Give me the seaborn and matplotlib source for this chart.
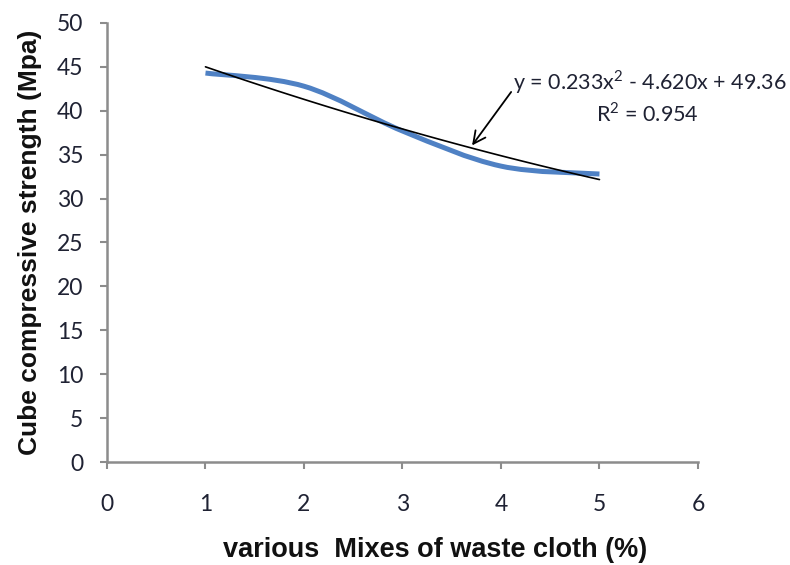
import numpy as np
import pandas as pd
import matplotlib
matplotlib.use("Agg")
import matplotlib.pyplot as plt
from matplotlib.path import Path
from matplotlib.patches import PathPatch
import seaborn as sns

# data
mix_percent = [1, 2, 3, 4, 5]
strength = [44.3, 42.8, 37.7, 33.7, 32.8]
equation_text = "y = 0.233x$^{2}$ - 4.620x + 49.36"
r2_text = "R$^{2}$ = 0.954"
x_label = "various  Mixes of waste cloth (%)"
y_label = "Cube compressive strength (Mpa)"
x_ticks = [0, 1, 2, 3, 4, 5, 6]
y_ticks = [0, 5, 10, 15, 20, 25, 30, 35, 40, 45, 50]

df = pd.DataFrame({"mix": mix_percent, "strength": strength})

sns.set_theme(style="white")
plt.rcParams["font.family"] = ["Lato", "DejaVu Sans"]
plt.rcParams["mathtext.fontset"] = "custom"
plt.rcParams["mathtext.rm"] = "Lato"

fig = plt.figure(figsize=(7.9, 5.65), dpi=100)
ax = fig.add_axes([0.1354, 0.1823, 0.7481, 0.777])

# smooth (Excel-like) blue line using cubic Bezier segments through the data
pts = df[["mix", "strength"]].to_numpy(dtype=float)
n = len(pts)
verts = [tuple(pts[0])]
codes = [Path.MOVETO]
for i in range(n - 1):
    p0 = pts[i - 1] if i > 0 else pts[i]
    p1 = pts[i]
    p2 = pts[i + 1]
    p3 = pts[i + 2] if i + 2 < n else pts[i + 1]
    c1 = p1 + (p2 - p0) / 6.0
    c2 = p2 - (p3 - p1) / 6.0
    verts += [tuple(c1), tuple(c2), tuple(p2)]
    codes += [Path.CURVE4] * 3
blue_path = PathPatch(Path(verts, codes), facecolor="none", edgecolor="#4f81c4",
                      linewidth=3.6, capstyle="butt", zorder=2)
ax.add_patch(blue_path)

# polynomial trendline (order 2)
sns.regplot(data=df, x="mix", y="strength", order=2, ci=None, scatter=False,
            ax=ax, line_kws=dict(color="black", linewidth=1.2, zorder=3))

ax.set_xlim(0, 6)
ax.set_ylim(0, 50)
ax.set_xticks(x_ticks)
ax.set_yticks(y_ticks)
ax.set_xticklabels([str(v) for v in x_ticks])
ax.set_yticklabels([str(v) for v in y_ticks])

for side in ["top", "right"]:
    ax.spines[side].set_visible(False)
for side in ["left", "bottom"]:
    ax.spines[side].set_color("#8c8c8c")
    ax.spines[side].set_linewidth(1.8)

ax.tick_params(axis="both", which="major", direction="out", length=5, width=1.5,
               color="#8c8c8c", labelsize=16.5, labelcolor="#1f2233")
ax.tick_params(axis="y", pad=12, left=True)
ax.tick_params(axis="x", pad=18, bottom=True)

ax.set_xlabel(x_label, fontsize=19.5, fontweight="bold", family=["Liberation Sans", "DejaVu Sans"],
              color="#111111")
ax.set_ylabel(y_label, fontsize=19, fontweight="bold", family=["Liberation Sans", "DejaVu Sans"],
              color="#111111")
ax.xaxis.set_label_coords(0.555, -0.2, transform=ax.transAxes)
ax.xaxis.label.set_va("center")
ax.yaxis.set_label_coords(-0.13, 0.5, transform=ax.transAxes)
ax.yaxis.label.set_va("center")

# annotation
ax.annotate("", xy=(3.69, 35.8), xytext=(4.12, 42.4),
            arrowprops=dict(arrowstyle="->", color="black", lw=1.3, mutation_scale=22))
ax.text(4.12, 43.3, equation_text, fontsize=15.5, color="#1f2233", ha="left", va="center")
ax.text(5.49, 39.7, r2_text, fontsize=15.5, color="#1f2233", ha="center", va="center")

fig.savefig("out.png", dpi=100)
